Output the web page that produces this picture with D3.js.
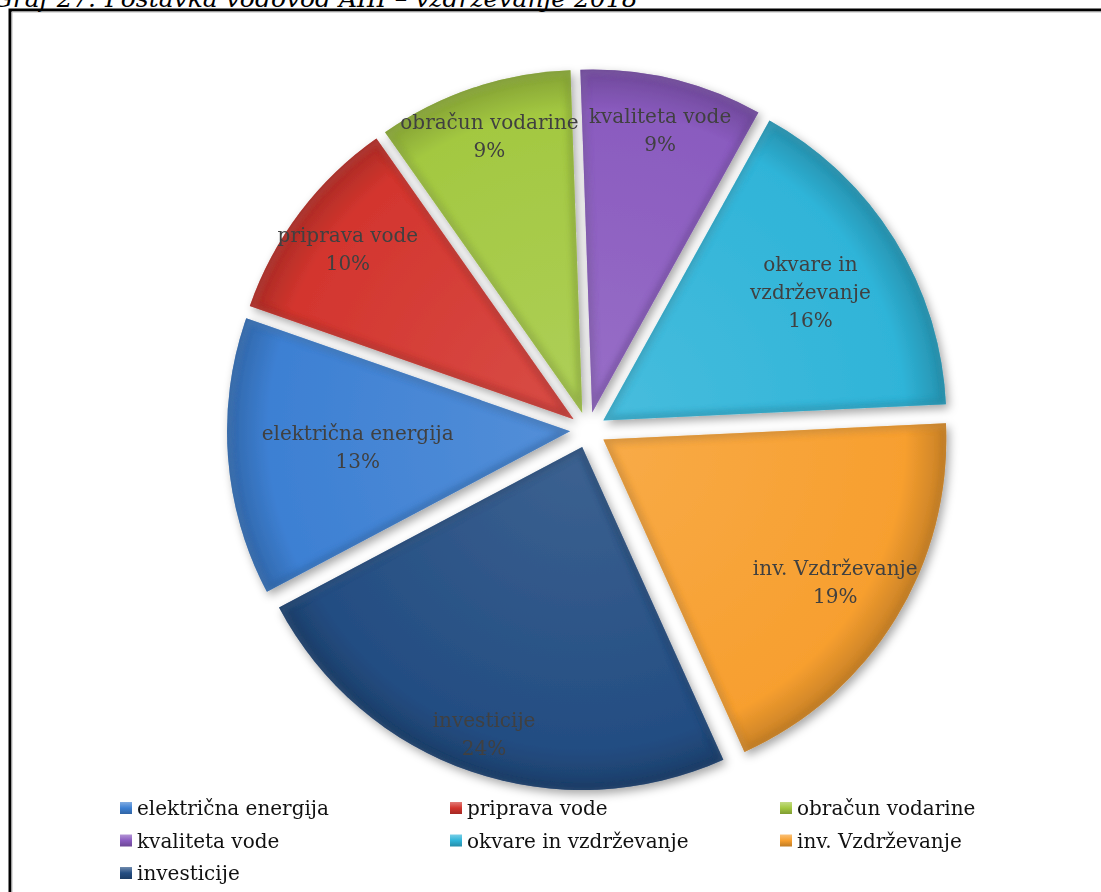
<!DOCTYPE html>
<html><head><meta charset="utf-8">
<script src="https://cdn.jsdelivr.net/npm/d3@7"></script>
<style>
html,body{margin:0;padding:0;background:#fff;overflow:hidden}
svg{display:block}
</style></head><body>
<svg id="chart" width="1101" height="892"></svg>
<script>
// ---------- data ----------
const categories = ["električna energija","priprava vode","obračun vodarine","kvaliteta vode","okvare in vzdrževanje","inv. Vzdrževanje","investicije"];
const shares = [13.1, 9.9, 9.2, 8.6, 16.2, 19.0, 24.0];
const labelLines = [["električna energija"],["priprava vode"],["obračun vodarine"],["kvaliteta vode"],["okvare in","vzdrževanje"],["inv. Vzdrževanje"],["investicije"]];
const titleText = "Graf 27: Postavka vodovod AIII – vzdrževanje 2018";

// ---------- style / layout ----------
const colors = ["#3d80d3","#d3352e","#a3c841","#8a5bbf","#2fb4d8","#f79f2f","#234d82"];
const labelRadiusFrac = [0.621, 0.825, 0.851, 0.848, 0.711, 0.793, 0.883];
const W = 1101, H = 892;
const cx = 588, cy = 430, R = 343, explode = 18;
const startDeg = -117.9;
const fontFam = "'DejaVu Serif', serif";

const svg = d3.select("#chart");
const defs = svg.append("defs");

// frame
svg.append("path").attr("d", `M10,${H+10} V10 H${W+10}`)
  .attr("fill","none").attr("stroke","#000").attr("stroke-width",3);
svg.append("path").attr("d", `M12,${H+10} V12 H${W+10}`)
  .attr("fill","none").attr("stroke","#bbb").attr("stroke-width",1);

// title (partially cut at top)
const title = svg.append("text").attr("y", 7)
  .attr("font-family", fontFam).attr("font-style","italic").attr("font-size", 25)
  .attr("fill","#000");
const tmp = title.append("tspan").text("Graf 27: ");
const preW = tmp.node().getComputedTextLength();
tmp.remove();
title.attr("x", 97 - preW).text(titleText);

// filters
const shadow = defs.append("filter").attr("id","shadow").attr("x","-20%").attr("y","-20%").attr("width","140%").attr("height","140%");
shadow.append("feDropShadow").attr("dx",3).attr("dy",4).attr("stdDeviation",5)
  .attr("flood-color","#000").attr("flood-opacity",0.35);
const blur = defs.append("filter").attr("id","blur");
blur.append("feGaussianBlur").attr("stdDeviation",3);

const pie = d3.pie().sort(null).value(d => d)
  .startAngle(startDeg * Math.PI/180)
  .endAngle(startDeg * Math.PI/180 + 2*Math.PI);
const arcs = pie(shares);
const arc = d3.arc().innerRadius(0).outerRadius(R);

const pieG = svg.append("g").attr("transform", `translate(${cx},${cy})`);
const sliceLayer = pieG.append("g").attr("filter","url(#shadow)");

arcs.forEach((a, i) => {
  const mid = (a.startAngle + a.endAngle) / 2;
  const ox = explode * Math.sin(mid), oy = -explode * Math.cos(mid);
  const base = d3.color(colors[i]);
  const grad = defs.append("radialGradient").attr("id","g"+i)
    .attr("gradientUnits","userSpaceOnUse").attr("cx",0).attr("cy",0).attr("r",R);
  grad.append("stop").attr("offset",0).attr("stop-color", d3.interpolateRgb(base, "#fff")(0.12));
  grad.append("stop").attr("offset",0.88).attr("stop-color", base.formatHex());
  grad.append("stop").attr("offset",1).attr("stop-color", base.darker(0.6).formatHex());
  const d = arc(a);
  defs.append("clipPath").attr("id","c"+i).append("path").attr("d", d);
  const g = sliceLayer.append("g").attr("transform", `translate(${ox},${oy})`);
  g.append("path").attr("d", d).attr("fill", `url(#g${i})`);
  g.append("g").attr("clip-path", `url(#c${i})`)
    .append("path").attr("d", d).attr("fill","none")
    .attr("stroke", base.darker(0.9).formatHex()).attr("stroke-width", 9)
    .attr("opacity", 0.55).attr("filter","url(#blur)");
  g.append("g").attr("clip-path", `url(#c${i})`)
    .append("path").attr("d", d).attr("fill","none")
    .attr("transform","translate(2,2)")
    .attr("stroke", d3.interpolateRgb(base, "#fff")(0.45)).attr("stroke-width", 3)
    .attr("opacity", 0.35).attr("filter","url(#blur)");
});

// data labels
arcs.forEach((a, i) => {
  const mid = (a.startAngle + a.endAngle) / 2;
  const dist = explode + labelRadiusFrac[i] * R;
  const lx = dist * Math.sin(mid), ly = -dist * Math.cos(mid);
  const lines = labelLines[i].concat([Math.round(shares[i]) + "%"]);
  const lh = 28;
  const t = pieG.append("text").attr("text-anchor","middle")
    .attr("font-family", fontFam).attr("font-size", 20).attr("fill","#404040");
  lines.forEach((s, k) => {
    t.append("tspan").attr("x", lx)
      .attr("y", ly - (lines.length-1)*lh/2 + k*lh + 7).text(s);
  });
});

// legend
const colX = [120, 450, 780];
const rowY0 = 808, rowStep = 32.5;
categories.forEach((c, i) => {
  const x = colX[i % 3], y = rowY0 + Math.floor(i/3) * rowStep;
  const base = d3.color(colors[i]);
  const lg = defs.append("linearGradient").attr("id","lg"+i).attr("x1",0).attr("y1",0).attr("x2",0).attr("y2",1);
  lg.append("stop").attr("offset",0).attr("stop-color", d3.interpolateRgb(base,"#fff")(0.35));
  lg.append("stop").attr("offset",0.5).attr("stop-color", base.formatHex());
  lg.append("stop").attr("offset",1).attr("stop-color", base.darker(0.7).formatHex());
  svg.append("rect").attr("x", x).attr("y", y - 6).attr("width", 12).attr("height", 12)
    .attr("fill", `url(#lg${i})`);
  svg.append("text").attr("x", x + 17).attr("y", y + 7)
    .attr("font-family", fontFam).attr("font-size", 20).attr("fill","#111").text(c);
});
</script>
</body></html>
